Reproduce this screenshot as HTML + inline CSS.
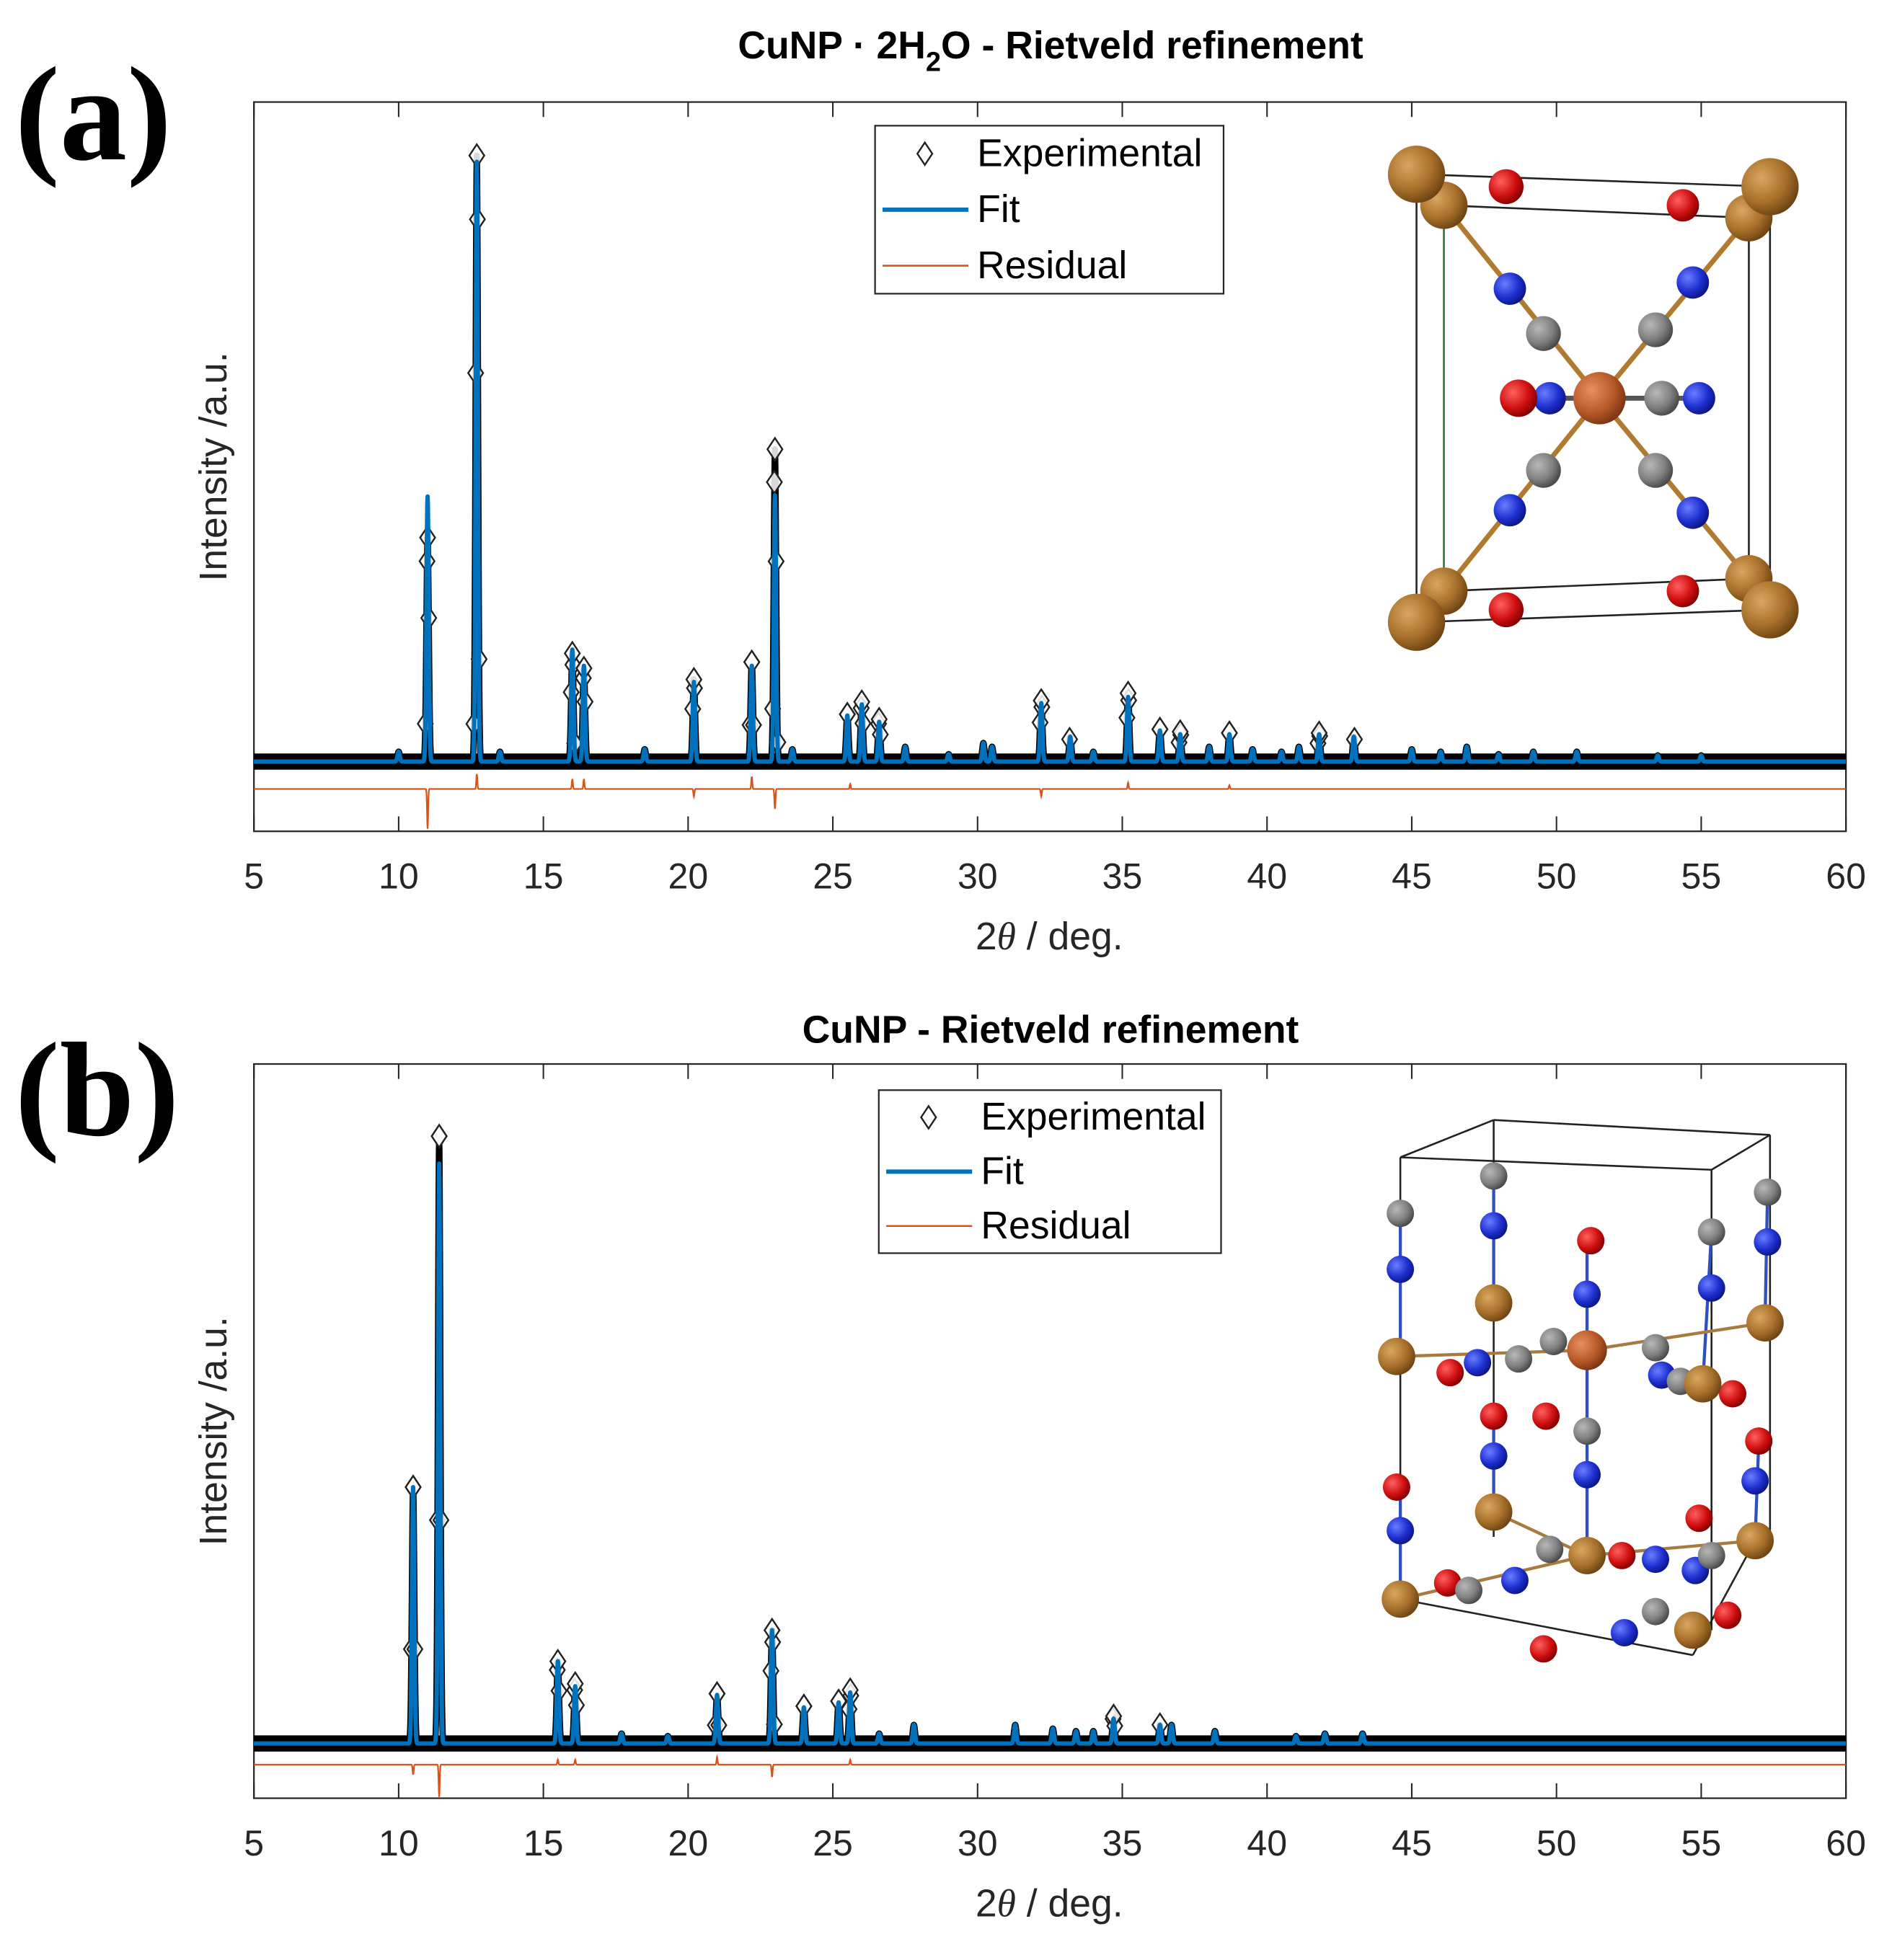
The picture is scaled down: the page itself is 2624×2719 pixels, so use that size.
<!DOCTYPE html>
<html><head><meta charset="utf-8"><style>
html,body{margin:0;padding:0;background:#fff}
svg{display:block}
text{font-family:"Liberation Sans",Arial,sans-serif}
</style></head><body>
<svg id="fig" width="2624" height="2719" viewBox="0 0 1520 1575" preserveAspectRatio="none" xmlns="http://www.w3.org/2000/svg">
<defs>
<radialGradient id="gBrown" cx="35%" cy="35%" r="70%"><stop offset="0" stop-color="#d9a760"/><stop offset="0.6" stop-color="#a8702a"/><stop offset="1" stop-color="#6b4212"/></radialGradient>
<radialGradient id="gCu" cx="35%" cy="35%" r="70%"><stop offset="0" stop-color="#e69060"/><stop offset="0.6" stop-color="#b85a2a"/><stop offset="1" stop-color="#7a3310"/></radialGradient>
<radialGradient id="gRed" cx="35%" cy="35%" r="70%"><stop offset="0" stop-color="#ff6060"/><stop offset="0.6" stop-color="#d01010"/><stop offset="1" stop-color="#800000"/></radialGradient>
<radialGradient id="gBlue" cx="35%" cy="35%" r="70%"><stop offset="0" stop-color="#6a7dff"/><stop offset="0.6" stop-color="#1e30d0"/><stop offset="1" stop-color="#0a1580"/></radialGradient>
<radialGradient id="gGray" cx="35%" cy="35%" r="70%"><stop offset="0" stop-color="#b8b8b8"/><stop offset="0.6" stop-color="#808080"/><stop offset="1" stop-color="#454545"/></radialGradient>
</defs>
<text x="12" y="128" font-weight="bold" font-size="108" style="font-family:'Liberation Serif',serif">(a)</text>
<text x="12" y="912" font-weight="bold" font-size="108" style="font-family:'Liberation Serif',serif">(b)</text>
<text x="844" y="47" text-anchor="middle" font-weight="bold" font-size="31">CuNP · 2H<tspan font-size="22" dy="10">2</tspan><tspan dy="-10">O - Rietveld refinement</tspan></text>
<text x="844" y="838" text-anchor="middle" font-weight="bold" font-size="31">CuNP - Rietveld refinement</text>
<g id="panelA"></g>
<g id="panelB"></g>
</svg>
<script>
// ---- Panel (a) data: 2theta positions and intensities (baseline-relative) ----
const peaksA2t   = [10.0,11.0,12.7,13.5,16.0,16.4,18.5,20.2,22.2,23.0,23.6,25.5,26.0,26.6,27.5,29.0,30.2,30.5,32.2,33.2,34.0,35.2,36.3,37.0,38.0,38.7,39.5,40.5,41.1,41.8,43.0,45.0,46.0,46.9,48.0,49.2,50.7,53.5,55.0];
const fitA       = [8,213,482,8,90,77,10,64,77,214,10,37,46,32,12,6,15,12,47,20,8,52,25,22,12,22,10,8,12,22,20,10,8,12,6,8,8,5,5];
const expA       = [8,180,487,8,87,75,10,66,80,251,10,38,48,34,12,6,15,12,49,20,8,55,26,24,12,23,10,8,12,23,20,10,8,12,6,8,8,5,5];
const residA2t   = [11.0,12.7,16.0,16.4,20.2,22.2,23.0,25.6,32.2,35.2,38.7];
const residA     = [-32,12,8,8,-6,10,-16,4,-6,5,3];
// ---- Panel (b) data ----
const peaksB2t   = [10.5,11.4,15.5,16.1,17.7,19.3,21.0,22.9,24.0,25.2,25.6,26.6,27.8,31.3,32.6,33.4,34.0,34.7,36.3,36.7,38.2,41.0,42.0,43.3];
const fitB       = [206,466,66,46,8,6,39,91,29,33,41,8,15,15,12,10,10,20,15,15,10,6,8,8];
const expB       = [206,488,66,48,8,6,40,91,30,34,43,8,15,15,12,10,10,22,15,15,10,6,8,8];
const residB2t   = [10.5,11.4,15.5,16.1,21.0,22.9,25.6];
const residB     = [-8,-26,4,4,6,-10,4];
const xTicks     = [5,10,15,20,25,30,35,40,45,50,55,60];

const NS="http://www.w3.org/2000/svg";
function mk(tag,attrs,parent){const e=document.createElementNS(NS,tag);for(const k in attrs)e.setAttribute(k,attrs[k]);if(parent)parent.appendChild(e);return e;}
function prof(t,pos,h,w){let s=0;for(let i=0;i<pos.length;i++){const d=(t-pos[i])/w;if(Math.abs(d)<6)s+=h[i]*Math.exp(-d*d);}return s;}
function diamond(g,cx,cy){return mk('path',{d:`M${cx} ${cy-9}L${cx+6} ${cy}L${cx} ${cy+9}L${cx-6} ${cy}Z`,fill:'#fff','fill-opacity':0.85,stroke:'#222','stroke-width':1.4},g);}

function drawPanel(g,cfg){
  const L=204,R=1483,T=cfg.top,B=cfg.bottom,base=cfg.base,rb=cfg.resBase;
  const x=t=>L+(t-5)/55*(R-L);
  const y=v=>base-v;
  const box=mk('rect',{x:L,y:T,width:R-L,height:B-T,fill:'#fff',stroke:'#262626','stroke-width':1.3},g);
  
  
  xTicks.forEach(tv=>{
    mk('line',{x1:x(tv),x2:x(tv),y1:B,y2:B-12,stroke:'#262626','stroke-width':1.2},g);
    mk('line',{x1:x(tv),x2:x(tv),y1:T,y2:T+12,stroke:'#262626','stroke-width':1.2},g);
    const lb=mk('text',{x:x(tv),y:B+46,'text-anchor':'middle','font-size':29,fill:'#262626'},g);
    lb.textContent=tv;
    
    
  });
  const xl=mk('text',{x:843,y:B+95,'text-anchor':'middle','font-size':31,fill:'#262626'},g);
  xl.innerHTML='2<tspan font-style="italic" style="font-family:\'Liberation Serif\',serif">θ</tspan> / deg.';
  
  
  const yl=mk('text',{x:0,y:0,'text-anchor':'middle','font-size':31,fill:'#262626',transform:`translate(182,${cfg.ylabY}) rotate(-90)`},g);
  yl.textContent='Intensity /a.u.';
  
  
  let dE='',dF='',dR='';
  for(let t=5;t<=60.0001;t+=0.01){
    const ve=prof(t,cfg.pos,cfg.exp,0.06), vf=prof(t,cfg.pos,cfg.fit,0.055), vr=prof(t,cfg.rpos,cfg.res,0.025);
    dE+=(dE?'L':'M')+x(t).toFixed(2)+' '+y(ve).toFixed(2);
    dF+=(dF?'L':'M')+x(t).toFixed(2)+' '+y(vf).toFixed(2);
    dR+=(dR?'L':'M')+x(t).toFixed(2)+' '+(rb-vr).toFixed(2);
  }
  const band=mk('line',{x1:L,x2:R,y1:base,y2:base,stroke:'#000','stroke-width':13},g);
  
  
  const ex=mk('path',{d:dE,fill:'none',stroke:'#000','stroke-width':5,'stroke-linejoin':'round'},g);
  
  
  const dg=mk('g',{},g);
  
  
  for(let t=5;t<=60.0001;t+=0.02){
    const ve=prof(t,cfg.pos,cfg.exp,0.06);
    if(ve>14){
      const yy=y(ve);
      if(Math.round(t*50)%3===0) diamond(dg,x(t),yy);
    }
  }
  cfg.pos.forEach((p,i)=>{if(cfg.exp[i]>20)diamond(dg,x(p),y(cfg.exp[i]));});
  const fit=mk('path',{d:dF,fill:'none',stroke:'#0072BD','stroke-width':3.5,'stroke-linejoin':'round'},g);
  
  
  const res=mk('path',{d:dR,fill:'none',stroke:'#D95319','stroke-width':1.3},g);
  
  
  const lg=mk('g',{},g);
  
  
  const lx=cfg.leg[0],ly=cfg.leg[1],lw=cfg.leg[2],lh=cfg.leg[3];
  mk('rect',{x:lx,y:ly,width:lw,height:lh,fill:'#fff',stroke:'#262626','stroke-width':1.3},lg);
  const rowH=lh/3;
  const r1=ly+rowH*0.5, r2=ly+rowH*1.5, r3=ly+rowH*2.5;
  diamond(lg,lx+40,r1);
  mk('line',{x1:lx+6,x2:lx+75,y1:r2,y2:r2,stroke:'#0072BD','stroke-width':3.5},lg);
  mk('line',{x1:lx+6,x2:lx+75,y1:r3,y2:r3,stroke:'#D95319','stroke-width':1.5},lg);
  [['Experimental',r1,'legend-entry-experimental'],['Fit',r2,'legend-entry-fit'],['Residual',r3,'legend-entry-residual']].forEach(a=>{
    const t=mk('text',{x:lx+82,y:a[1]+10,'font-size':31,fill:'#000'},lg);
    t.textContent=a[0];
    
    
  });
}

drawPanel(document.getElementById('panelA'),{top:82,bottom:668,base:612,resBase:634,ylabY:375,pos:peaksA2t,fit:fitA,exp:expA,rpos:residA2t,res:residA,leg:[703,101,280,135]});
drawPanel(document.getElementById('panelB'),{top:855,bottom:1445,base:1401,resBase:1418,ylabY:1150,pos:peaksB2t,fit:fitB,exp:expB,rpos:residB2t,res:residB,leg:[706,876,275,131]});

function atom(g,cx,cy,r,gr){mk('circle',{cx:cx,cy:cy,r:r,fill:`url(#${gr})`},g);}
function bond(g,a,b,c,w){mk('line',{x1:a[0],y1:a[1],x2:b[0],y2:b[1],stroke:c,'stroke-width':w||4},g);}
const iA=mk('g',{},document.getElementById('fig'));


[[1138,140,1422,150],[1160,165,1405,175],[1138,500,1422,490],[1160,475,1405,465],[1138,140,1138,500],[1422,150,1422,490],[1405,175,1405,465]].forEach(l=>bond(iA,[l[0],l[1]],[l[2],l[3]],'#222',1.5));
bond(iA,[1160,165],[1160,475],'#2a7a2a',1.5);
const ctrA=[1285,320];
[[1160,165],[1405,175],[1160,475],[1405,465]].forEach(p=>{bond(iA,p,ctrA,'#b07a30',4);});
bond(iA,[1220,320],[1365,320],'#555',4);
atom(iA,1210,150,14,'gRed');atom(iA,1352,165,13,'gRed');
[[1213,232],[1360,227],[1213,410],[1360,412],[1245,320],[1365,320]].forEach(p=>atom(iA,p[0],p[1],13,'gBlue'));
[[1240,268],[1330,265],[1240,378],[1330,378],[1335,320]].forEach(p=>atom(iA,p[0],p[1],14,'gGray'));
atom(iA,1220,320,15,'gRed');
atom(iA,1285,320,21,'gCu');
[[1160,165],[1405,175],[1160,475],[1405,465]].forEach(p=>atom(iA,p[0],p[1],19,'gBrown'));
atom(iA,1210,490,14,'gRed');atom(iA,1352,475,13,'gRed');
[[1138,140],[1422,150],[1138,500],[1422,490]].forEach(p=>atom(iA,p[0],p[1],23,'gBrown'));

const iB=mk('g',{},document.getElementById('fig'));


[[1125,930,1200,900],[1200,900,1422,912],[1422,912,1375,940],[1375,940,1125,930],[1125,930,1125,1285],[1200,900,1200,1235],[1422,912,1422,1235],[1375,940,1375,1310],[1125,1285,1360,1330],[1360,1330,1410,1238]].forEach(l=>bond(iB,[l[0],l[1]],[l[2],l[3]],'#222',1.5));
[[1125,975,1125,1090],[1200,945,1200,1047],[1375,990,1368,1112],[1420,958,1418,1063],[1275,997,1275,1250],[1200,1138,1200,1215],[1125,1195,1125,1285],[1413,1158,1410,1238]].forEach(l=>bond(iB,[l[0],l[1]],[l[2],l[3]],'#3050c0',2.5));
[[1122,1090,1275,1085],[1275,1085,1418,1063],[1200,1215,1275,1250],[1275,1250,1410,1238],[1125,1285,1275,1250]].forEach(l=>bond(iB,[l[0],l[1]],[l[2],l[3]],'#a87a40',2.5));
[[1278,997],[1200,1138],[1242,1138],[1165,1103],[1392,1120],[1413,1158],[1122,1195],[1365,1220],[1303,1250],[1163,1272],[1388,1298],[1240,1325]].forEach(p=>atom(iB,p[0],p[1],11,'gRed'));
[[1125,1020],[1200,985],[1375,1035],[1420,998],[1275,1040],[1200,1170],[1275,1185],[1125,1230],[1217,1270],[1305,1312],[1410,1190],[1362,1262],[1187,1095],[1330,1253],[1335,1105]].forEach(p=>atom(iB,p[0],p[1],11,'gBlue'));
[[1125,975],[1200,945],[1375,990],[1420,958],[1275,1150],[1330,1083],[1220,1092],[1248,1078],[1350,1110],[1180,1278],[1245,1245],[1330,1295],[1375,1250]].forEach(p=>atom(iB,p[0],p[1],11,'gGray'));
[[1122,1090],[1200,1047],[1368,1112],[1418,1063],[1200,1215],[1410,1238],[1125,1285],[1360,1310]].forEach(p=>atom(iB,p[0],p[1],15,'gBrown'));
atom(iB,1275,1085,16,'gCu');atom(iB,1275,1250,15,'gBrown');
</script>
</body></html>
